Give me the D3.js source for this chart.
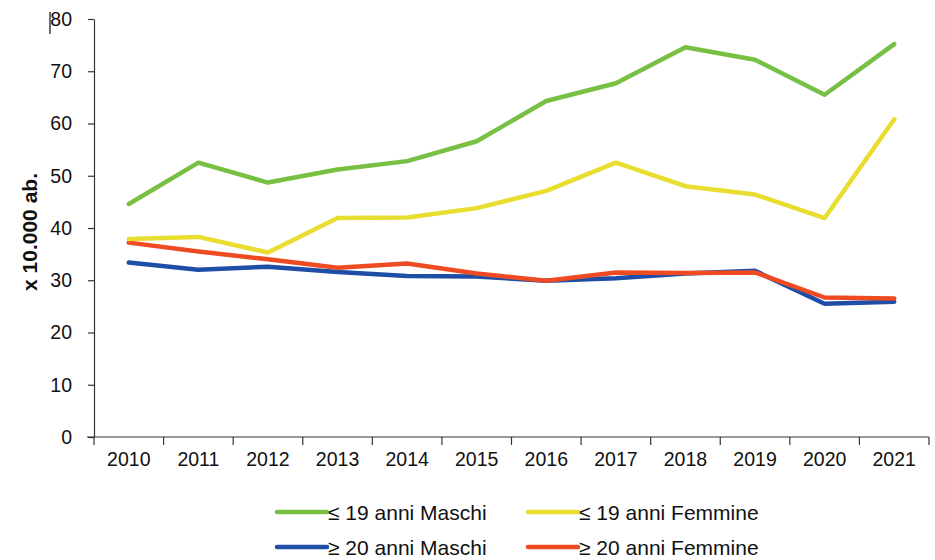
<!DOCTYPE html>
<html><head><meta charset="utf-8">
<script src="https://cdn.jsdelivr.net/npm/d3@7"></script>
<style>html,body{margin:0;padding:0;background:#fff;}svg{display:block;}</style>
</head><body>
<script>
const years = ["2010","2011","2012","2013","2014","2015","2016","2017","2018","2019","2020","2021"];
const maschi19 = [44.6,52.5,48.7,51.2,52.8,56.6,64.3,67.7,74.6,72.2,65.5,75.2];
const femmine19 = [37.9,38.3,35.3,41.9,42.0,43.8,47.1,52.5,48.0,46.4,41.9,60.8];
const maschi20 = [33.4,32.0,32.6,31.6,30.8,30.7,29.9,30.4,31.3,31.8,25.5,25.9];
const femmine20 = [37.2,35.5,34.0,32.4,33.2,31.3,29.9,31.5,31.4,31.5,26.7,26.5];
const yTicks = [0,10,20,30,40,50,60,70,80];
const seriesNames = ["≤ 19 anni Maschi","≤ 19 anni Femmine","≥ 20 anni Maschi","≥ 20 anni Femmine"];
const seriesColors = ["#78c043","#e9dd2f","#1f4ea6","#ee4b23"];
const yTitle = "x 10.000 ab.";

(function(){
const W = 935, H = 560;
const svg = d3.select("body").append("svg").attr("width", W).attr("height", H);
const mLeft = 94, mRight = 929, mTop = 19, mBottom = 437;

const x = d3.scaleBand().domain(years).range([mLeft, mRight]);
const y = d3.scaleLinear().domain([0, 80]).range([mBottom, mTop]);

// artifact line near top
svg.append("line").attr("x1",50).attr("x2",50).attr("y1",12).attr("y2",34)
  .attr("stroke","#222").attr("stroke-width",1.3);

const font = "Liberation Sans, Arial, sans-serif";

// Y axis
const yAxis = svg.append("g").attr("transform", `translate(${mLeft},0)`)
  .call(d3.axisLeft(y).tickValues(yTicks).tickSize(6).tickPadding(16).tickSizeOuter(0));
yAxis.select(".domain").attr("stroke","#333").attr("stroke-width",1.2);
yAxis.selectAll(".tick line").attr("stroke","#333").attr("stroke-width",1.2);
yAxis.selectAll("text").attr("font-family",font).attr("font-size",19.5).attr("fill","#111");

// X axis
const xAxis = svg.append("g").attr("transform", `translate(0,${mBottom})`)
  .call(d3.axisBottom(x).tickSize(0).tickPadding(15));
xAxis.select(".domain").remove();
xAxis.selectAll("text").attr("font-family",font).attr("font-size",19.5).attr("fill","#111");
svg.append("line").attr("x1",mLeft-7).attr("x2",mRight).attr("y1",mBottom).attr("y2",mBottom)
  .attr("stroke","#333").attr("stroke-width",1.2);
const bounds = years.map(d => x(d)).concat([x(years[years.length-1]) + x.bandwidth()]);
svg.append("g").selectAll("line").data(bounds).join("line")
  .attr("x1", d => d).attr("x2", d => d).attr("y1", mBottom).attr("y2", mBottom + 8)
  .attr("stroke","#333").attr("stroke-width",1.2);

// Y title
svg.append("text").attr("transform", `translate(37,232) rotate(-90)`)
  .attr("text-anchor","middle").attr("font-family",font).attr("font-weight","bold")
  .attr("font-size",21).attr("fill","#111").text(yTitle);

// Lines
const allSeries = [maschi19, femmine19, maschi20, femmine20];
const line = d3.line().x((d,i) => x(years[i]) + x.bandwidth()/2).y(d => y(d));
const drawOrder = [2,3,1,0];
drawOrder.forEach(k => {
  svg.append("path").datum(allSeries[k]).attr("d", line)
    .attr("fill","none").attr("stroke", seriesColors[k]).attr("stroke-width",4.5)
    .attr("stroke-linejoin","round").attr("stroke-linecap","round");
});

// Legend
const legPos = [[277,512],[528,512],[277,547],[528,547]];
seriesNames.forEach((n,k) => {
  const [lx, ly] = legPos[k];
  svg.append("line").attr("x1",lx).attr("x2",lx+50).attr("y1",ly).attr("y2",ly)
    .attr("stroke",seriesColors[k]).attr("stroke-width",4.5).attr("stroke-linecap","round");
  svg.append("text").attr("x",lx+51).attr("y",ly+7.5).attr("font-family",font)
    .attr("font-size",21).attr("fill","#111").text(n);
});
})();
</script>
</body></html>
